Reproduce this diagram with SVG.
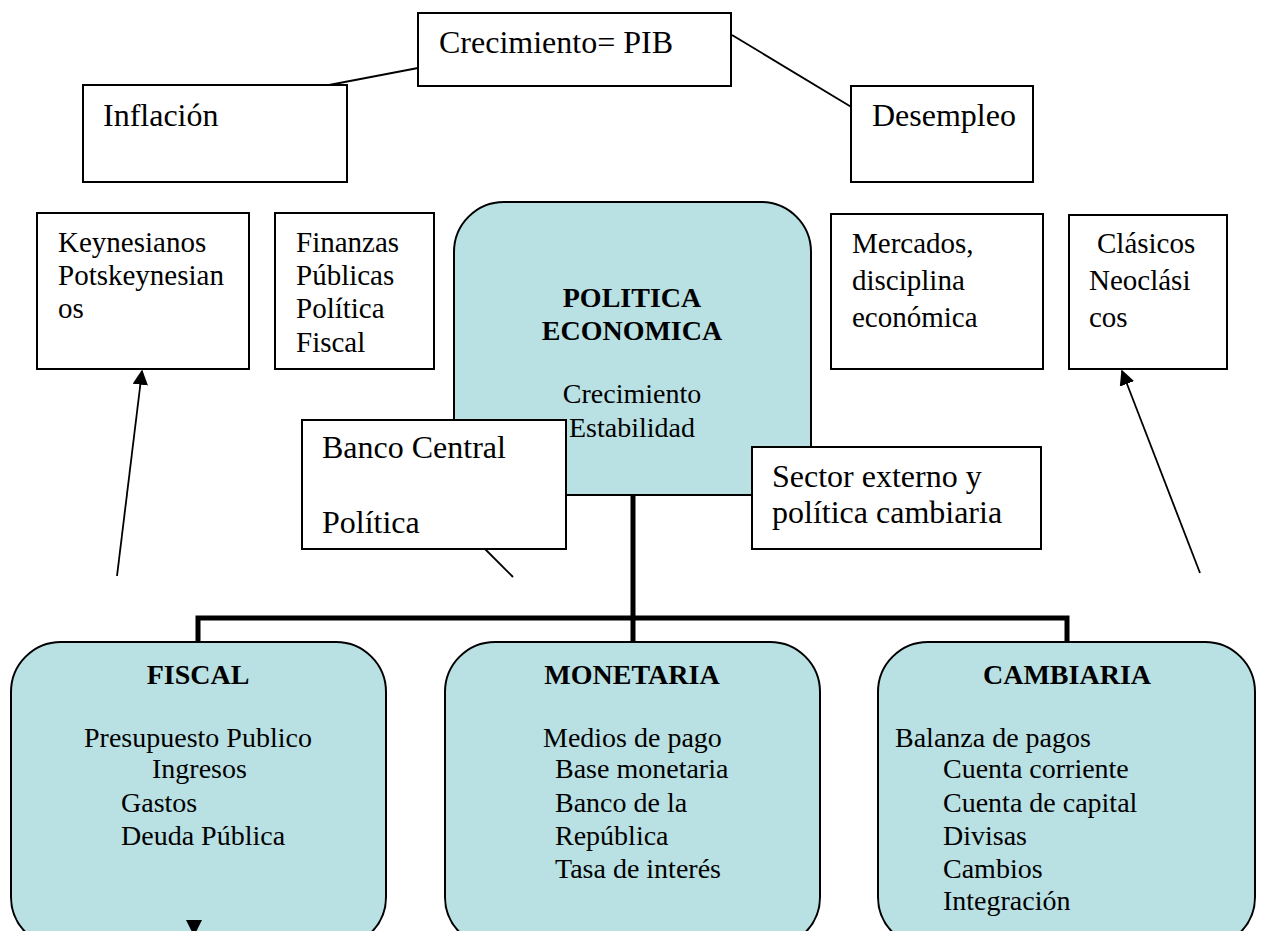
<svg xmlns="http://www.w3.org/2000/svg" width="1263" height="931" viewBox="0 0 1263 931">
  <defs>
    <style>
      .box { fill: #ffffff; stroke: #000000; stroke-width: 2; }
      .rbox { fill: #b9e0e3; stroke: #000000; stroke-width: 2; }
      .t { font-family: "Liberation Serif", "Times New Roman", serif; fill: #000000; }
      .big { font-size: 32px; }
      .mid { font-size: 29px; }
      .sm { font-size: 28px; }
      .b { font-weight: bold; }
      .line { stroke: #000000; stroke-width: 1.8; fill: none; }
      .trunk { stroke: #000000; stroke-width: 5; fill: none; }
    </style>
    <marker id="arrow" viewBox="0 0 10 10" refX="9" refY="5" markerWidth="8.5" markerHeight="8.5" markerUnits="strokeWidth" orient="auto">
      <path d="M0,0 L10,5 L0,10 Z" fill="#000000"/>
    </marker>
  </defs>

  <!-- connectors -->
  <g id="connectors">
    <line class="line" x1="418" y1="68" x2="329" y2="85"/>
    <line class="line" x1="732" y1="35" x2="853" y2="108"/>
    <line class="line" x1="117" y1="576" x2="142" y2="371" marker-end="url(#arrow)"/>
    <line class="line" x1="1200" y1="573" x2="1122" y2="371" marker-end="url(#arrow)"/>
    <line class="line" x1="485" y1="549" x2="513" y2="577"/>
    <polyline class="trunk" points="633,495 633,643"/>
    <polyline class="trunk" points="198,643 198,618 1067,618 1067,643"/>
  </g>

  <g id="crecimiento">
    <rect class="box" x="418" y="13" width="313" height="73"/>
    <text class="t big" x="439" y="53">Crecimiento= PIB</text>
  </g>

  <g id="inflacion">
    <rect class="box" x="83" y="85" width="264" height="97"/>
    <text class="t big" x="103" y="126">Inflación</text>
  </g>

  <g id="desempleo">
    <rect class="box" x="851" y="86" width="182" height="96"/>
    <text class="t big" x="872" y="126">Desempleo</text>
  </g>

  <g id="keynesianos">
    <rect class="box" x="37" y="213" width="212" height="156"/>
    <text class="t mid" x="58" y="252">Keynesianos</text>
    <text class="t mid" x="58" y="285">Potskeynesian</text>
    <text class="t mid" x="58" y="318">os</text>
  </g>

  <g id="finanzas">
    <rect class="box" x="275" y="213" width="159" height="156"/>
    <text class="t mid" x="296" y="252">Finanzas</text>
    <text class="t mid" x="296" y="285">Públicas</text>
    <text class="t mid" x="296" y="318">Política</text>
    <text class="t mid" x="296" y="352">Fiscal</text>
  </g>

  <g id="politica-economica">
    <rect class="rbox" x="454" y="202" width="357" height="293" rx="50" ry="50"/>
    <text class="t sm b" x="632" y="307" text-anchor="middle">POLITICA</text>
    <text class="t sm b" x="632" y="340" text-anchor="middle">ECONOMICA</text>
    <text class="t sm" x="632" y="403" text-anchor="middle">Crecimiento</text>
    <text class="t sm" x="632" y="437" text-anchor="middle">Estabilidad</text>
  </g>

  <g id="mercados">
    <rect class="box" x="831" y="214" width="212" height="155"/>
    <text class="t mid" x="852" y="253">Mercados,</text>
    <text class="t mid" x="852" y="290">disciplina</text>
    <text class="t mid" x="852" y="327">económica</text>
  </g>

  <g id="clasicos">
    <rect class="box" x="1069" y="215" width="158" height="154"/>
    <text class="t mid" x="1097" y="253">Clásicos</text>
    <text class="t mid" x="1089" y="290">Neoclási</text>
    <text class="t mid" x="1089" y="327">cos</text>
  </g>

  <g id="banco-central">
    <rect class="box" x="302" y="420" width="264" height="129"/>
    <text class="t big" x="322" y="458">Banco Central</text>
    <text class="t big" x="322" y="533">Política</text>
  </g>

  <g id="sector-externo">
    <rect class="box" x="752" y="447" width="289" height="102"/>
    <text class="t big" x="772" y="487">Sector externo y</text>
    <text class="t big" x="772" y="523">política cambiaria</text>
  </g>

  <g id="fiscal">
    <rect class="rbox" x="11" y="642" width="375" height="305" rx="50" ry="50"/>
    <text class="t sm b" x="198" y="684" text-anchor="middle">FISCAL</text>
    <text class="t sm" x="84" y="747">Presupuesto Publico</text>
    <text class="t sm" x="152" y="778">Ingresos</text>
    <text class="t sm" x="121" y="812">Gastos</text>
    <text class="t sm" x="121" y="845">Deuda Pública</text>
    <polygon points="186,920 202,920 194,936" fill="#000000"/>
  </g>

  <g id="monetaria">
    <rect class="rbox" x="445" y="642" width="375" height="305" rx="50" ry="50"/>
    <text class="t sm b" x="632" y="684" text-anchor="middle">MONETARIA</text>
    <text class="t sm" x="543" y="747">Medios de pago</text>
    <text class="t sm" x="555" y="778">Base monetaria</text>
    <text class="t sm" x="555" y="812">Banco de la</text>
    <text class="t sm" x="555" y="845">República</text>
    <text class="t sm" x="555" y="878">Tasa de interés</text>
  </g>

  <g id="cambiaria">
    <rect class="rbox" x="878" y="642" width="377" height="305" rx="50" ry="50"/>
    <text class="t sm b" x="1067" y="684" text-anchor="middle">CAMBIARIA</text>
    <text class="t sm" x="895" y="747">Balanza de pagos</text>
    <text class="t sm" x="943" y="778">Cuenta corriente</text>
    <text class="t sm" x="943" y="812">Cuenta de capital</text>
    <text class="t sm" x="943" y="845">Divisas</text>
    <text class="t sm" x="943" y="878">Cambios</text>
    <text class="t sm" x="943" y="910">Integración</text>
  </g>
</svg>
